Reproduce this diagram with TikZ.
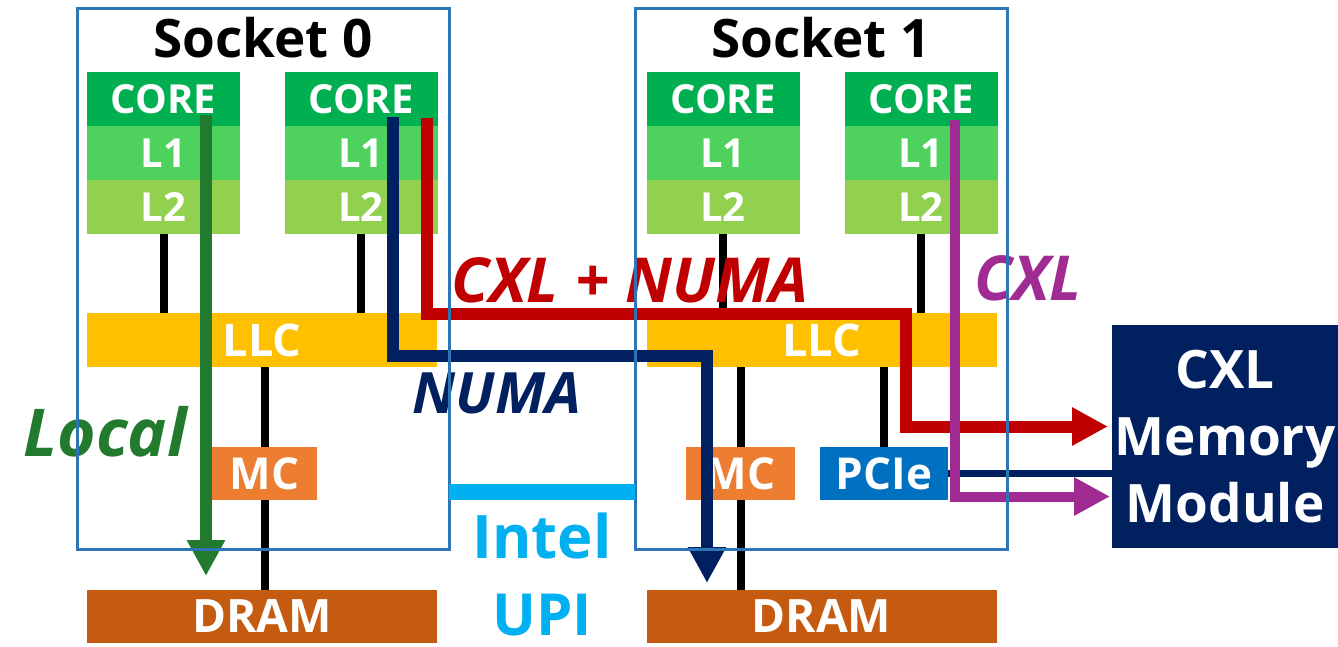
\documentclass[tikz,border=0pt]{standalone}
\usepackage{fontspec}
\setmainfont{Open Sans}
\usetikzlibrary{arrows.meta,positioning}
\definecolor{sockblue}{HTML}{2E75B6}
\definecolor{coregreen}{HTML}{00B050}
\definecolor{lonegreen}{HTML}{4FD15E}
\definecolor{ltwogreen}{HTML}{92D050}
\definecolor{llcyellow}{HTML}{FFC000}
\definecolor{mcorange}{HTML}{ED7D31}
\definecolor{dramorange}{HTML}{C55A11}
\definecolor{pcieblue}{HTML}{0070C0}
\definecolor{upiblue}{HTML}{00B0F0}
\definecolor{navy}{HTML}{002060}
\definecolor{cxlred}{HTML}{C00000}
\definecolor{cxlpurple}{HTML}{A02B93}
\definecolor{localgreen}{HTML}{217A2E}
\begin{document}
\begin{tikzpicture}[x=1pt, y=-1pt,
    every node/.style={outer sep=0pt, inner sep=0pt},
    cell/.style={minimum width=153pt, minimum height=54pt, text=white, font=\bfseries\fontsize{40}{42}\selectfont},
    corecell/.style={cell, fill=coregreen},
    onecell/.style={cell, fill=lonegreen},
    twocell/.style={cell, fill=ltwogreen},
    llcbar/.style={fill=llcyellow, minimum width=350pt, minimum height=54pt, text=white, font=\bfseries\fontsize{45}{47}\selectfont},
    drambar/.style={fill=dramorange, minimum width=350pt, minimum height=53pt, text=white, font=\bfseries\fontsize{46}{48}\selectfont},
    smallbox/.style={minimum height=53pt, text=white, font=\bfseries\fontsize{44}{46}\selectfont},
    socketbox/.style={draw=sockblue, line width=3pt, minimum width=372pt, minimum height=541pt},
    title/.style={anchor=base, font=\bfseries\fontsize{53}{55}\selectfont},
    wire/.style={line width=8pt},
    route/.style={line width=12pt, -{Triangle[length=36pt,width=36pt]}},
    tag/.style={anchor=base, font=\bfseries\itshape\fontsize{62}{64}\selectfont}]
\useasboundingbox (0,0) rectangle (1338,646);

\node[corecell] (core0a) at (163.5,99) {CORE};
\node[onecell, below=0pt of core0a] (one0a) {L1};
\node[twocell, below=0pt of one0a] (two0a) {L2};
\node[corecell] (core0b) at (361,99) {CORE};
\node[onecell, below=0pt of core0b] (one0b) {L1};
\node[twocell, below=0pt of one0b] (two0b) {L2};
\node[corecell] (core1a) at (723,99) {CORE};
\node[onecell, below=0pt of core1a] (one1a) {L1};
\node[twocell, below=0pt of one1a] (two1a) {L2};
\node[corecell] (core1b) at (921,99) {CORE};
\node[onecell, below=0pt of core1b] (one1b) {L1};
\node[twocell, below=0pt of one1b] (two1b) {L2};

\node[llcbar] (llc0) at (262,340) {LLC};
\node[llcbar] (llc1) at (821.5,340) {LLC};
\node[drambar] (dram0) at (262,616.5) {DRAM};
\node[drambar] (dram1) at (821.5,616.5) {DRAM};

\node[smallbox, fill=mcorange, minimum width=105pt] (mc0) at (264.5,473.5) {MC};
\node[smallbox, fill=mcorange, minimum width=109pt] (mc1) at (740.5,473.5) {MC};
\node[smallbox, fill=pcieblue, minimum width=128pt] (pcie) at (884,473.5) {PCIe};

\draw[wire] (two0a.south) -- (two0a.south |- llc0.north);
\draw[wire] (two0b.south) -- (two0b.south |- llc0.north);
\draw[wire] (two1a.south) -- (two1a.south |- llc1.north);
\draw[wire] (two1b.south) -- (two1b.south |- llc1.north);
\draw[wire] (mc0.north) -- (mc0.north |- llc0.south);
\draw[wire] (mc0.south) -- (mc0.south |- dram0.north);
\draw[wire] (mc1.north) -- (mc1.north |- llc1.south);
\draw[wire] (mc1.south) -- (mc1.south |- dram1.north);
\draw[wire] (pcie.north) -- (pcie.north |- llc1.south);

\node[fill=navy, minimum width=226pt, minimum height=223pt, align=center, text=white,
  font=\bfseries\fontsize{53}{67}\selectfont] (cxl) at (1225,436.5) {CXL\\Memory\\Module};

\coordinate (localstart) at (206,115);
\coordinate (numastart) at (393,117);
\coordinate (numaturn) at (707,356);
\coordinate (bothstart) at (427,118);
\coordinate (bothturn) at (906,314);
\coordinate (cxlstart) at (955,120);

\draw[route, localgreen, shorten >=14pt] (localstart) -- (localstart |- dram0.north);
\draw[route, navy, shorten >=7pt] (numastart) |- (numaturn) -- (numaturn |- dram1.north);
\draw[route, cxlred, shorten >=4pt] (bothstart) |- (bothturn) |- ([yshift=10pt]cxl.west);
\draw[line width=7pt, navy] (pcie.east) -- (pcie.east -| cxl.west);
\draw[route, line width=10pt, cxlpurple, shorten >=2pt] (cxlstart) |- ([yshift=-60pt]cxl.west);

\node[tag, text=localgreen, font=\bfseries\itshape\fontsize{66}{68}\selectfont] (localtag) at (105,456) {Local};
\node[tag, text=navy, font=\bfseries\itshape\fontsize{57}{59}\selectfont] (numatag) at (497,413) {NUMA};
\node[tag, text=cxlred] (bothtag) at (630,302) {CXL + NUMA};
\node[tag, text=cxlpurple] (cxltag) at (1028,300) {CXL};

\node[socketbox] (s0) at (263,278.5) {};
\node[socketbox] (s1) at (821,278.5) {};
\node[title] (s0title) at (263,57) {Socket 0};
\node[title] (s1title) at (821,57) {Socket 1};

\draw[upiblue, line width=16pt] ([yshift=-213.5pt]s0.east) -- ([yshift=-213.5pt]s1.west);
\node[anchor=base, text=upiblue, font=\bfseries\fontsize{60}{62}\selectfont] (inteltag) at (542,558) {Intel};
\node[anchor=base, text=upiblue, font=\bfseries\fontsize{58}{60}\selectfont] (upitag) at (542,635) {UPI};
\end{tikzpicture}
\end{document}
